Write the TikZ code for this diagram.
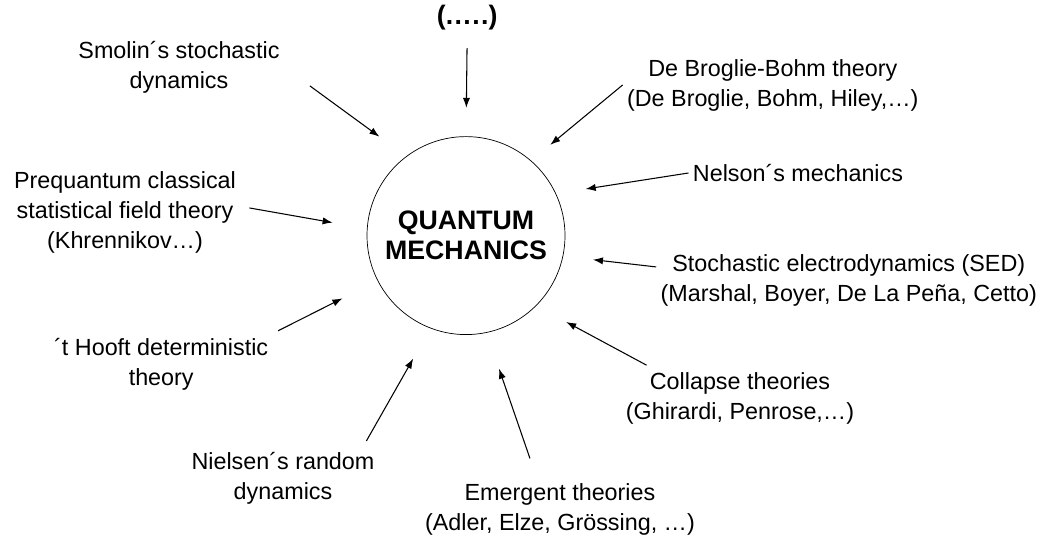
\documentclass[tikz,border=0pt]{standalone}
\usepackage{fontspec}
\setmainfont{Liberation Sans}
\usetikzlibrary{arrows.meta}

\begin{document}
\begin{tikzpicture}[
    teoria/.style={align=center, inner sep=3pt, font=\fontsize{16.6}{21.3}\selectfont},
    qmcirc/.style={circle, draw, line width=0.5pt, minimum size=4.95cm, inner sep=0pt,
        align=center, font=\fontsize{19}{21.3}\selectfont\bfseries},
    flecha/.style={-{Latex[length=2.5mm,width=1.8mm]}, line width=0.75pt}
]
    \useasboundingbox (0,0) rectangle (26.375,-13.4);

    % Mecanica cuantica
    \node[qmcirc] (qm) at (11.65,-5.89) {QUANTUM\\MECHANICS};

    % Teorias alrededor
    \node[teoria, font=\fontsize{19}{21.3}\selectfont\bfseries] (etc) at (11.68,-0.45) {(.\kern1pt.\kern1pt.\kern1pt.\kern1pt.)};
    \node[teoria] (smolin) at (4.475,-1.675) {Smolin´s stochastic\\dynamics};
    \node[teoria] (prequantum) at (3.125,-5.31) {Prequantum classical\\statistical field theory\\(Khrennikov…)};
    \node[teoria] (hooft) at (4.03,-9.1) {´t Hooft deterministic\\theory};
    \node[teoria] (nielsen) at (7.075,-11.96) {Nielsen´s random\\dynamics};
    \node[teoria] (emergent) at (14.0,-12.74) {Emergent theories\\(Adler, Elze, Grössing, …)};
    \node[teoria] (collapse) at (18.5,-9.96) {Collapse theories\\(Ghirardi, Penrose,…)};
    \node[teoria] (sed) at (21.22,-7.01) {Stochastic electrodynamics (SED)\\(Marshal, Boyer, De La Peña, Cetto)};
    \node[teoria] (nelson) at (19.95,-4.325) {Nelson´s mechanics};
    \node[teoria] (broglie) at (19.32,-2.125) {De Broglie-Bohm theory\\(De Broglie, Bohm, Hiley,…)};

    % Flechas hacia el circulo
    \draw[flecha, shorten <=0.33cm, shorten >=0.71cm] (etc.south) -- (qm.north);
    \draw[flecha, shorten <=0.8cm, shorten >=0.83cm] (smolin.east) -- (qm.127.8);
    \draw[flecha, shorten <=0.23cm, shorten >=0.87cm] (prequantum.3.7) -- (qm.176.6);
    \draw[flecha, shorten <=0.15cm, shorten >=0.98cm] (hooft.north east) -- (qm.207.6);
    \draw[flecha, shorten <=0.2cm, shorten >=0.87cm] (nielsen.21.9) -- (qm.249.5);
    \draw[flecha, shorten <=0.55cm, shorten >=0.95cm] (emergent.127.5) -- (qm.282.8);
    \draw[flecha, shorten <=0.15cm, shorten >=0.85cm] (collapse.161) -- (qm.315.8);
    \draw[flecha, shorten >=0.75cm] (sed.176) -- (qm.348.2);
    \draw[flecha, shorten >=0.75cm] (nelson.west) -- (qm.25);
    \draw[flecha, shorten >=0.62cm] (broglie.west) -- (qm.49.4);
\end{tikzpicture}
\end{document}
